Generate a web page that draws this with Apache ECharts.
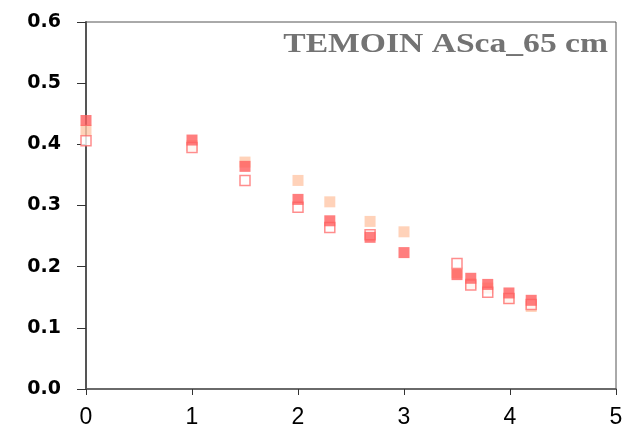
<!DOCTYPE html>
<html>
<head>
<meta charset="utf-8">
<script src="https://cdn.jsdelivr.net/npm/echarts@6/dist/echarts.min.js"></script>
<style>
  html, body { margin: 0; padding: 0; background: #fff; }
  #chart { width: 640px; height: 434px; }
</style>
</head>
<body>
<div id="chart"></div>
<script>
// values: [distance, value]
const redFilled = [
  [0, 0.439], [1, 0.407], [1.5, 0.364], [2, 0.310], [2.3, 0.275],
  [2.68, 0.248], [3, 0.223], [3.5, 0.187], [3.63, 0.181], [3.79, 0.171],
  [3.99, 0.157], [4.2, 0.145]
];
const peachFilled = [
  [0, 0.423], [1, 0.398], [1.5, 0.371], [2, 0.341], [2.3, 0.306],
  [2.68, 0.274], [3, 0.257], [3.5, 0.190], [3.63, 0.172], [3.79, 0.165],
  [3.99, 0.148], [4.2, 0.135]
];
const redHollow = [
  [0, 0.406], [1, 0.395], [1.5, 0.341], [2, 0.297], [2.3, 0.264],
  [2.68, 0.252], [3.5, 0.205], [3.63, 0.170], [3.79, 0.158],
  [3.99, 0.148], [4.2, 0.138]
];
const titleText = 'TEMOIN ASca_65 cm';

const chart = echarts.init(document.getElementById('chart'));

const option = {
  animation: false,
  backgroundColor: '#fff',
  // title drawn as graphic so it can be stretched a bit horizontally
  graphic: [{
    type: 'text',
    x: 608, y: 45,
    originX: 0, originY: 0,
    scaleX: 1.2,
    style: {
      text: titleText,
      font: 'bold 28px "Liberation Serif"',
      fill: '#737373',
      align: 'right',
      verticalAlign: 'middle'
    },
    z: 10
  }],
  grid: {
    left: 86, right: 24, top: 22, bottom: 45,
    show: true, borderColor: '#555', borderWidth: 1
  },
  xAxis: {
    type: 'value',
    min: 0, max: 5, interval: 1,
    axisLine: { lineStyle: { color: '#555', width: 1.5 } },
    axisTick: { show: true, length: 6, lineStyle: { color: '#333' } },
    splitLine: { show: false },
    axisLabel: {
      fontFamily: 'Liberation Sans', fontSize: 23, color: '#000', margin: 17
    }
  },
  yAxis: {
    type: 'value',
    min: 0, max: 0.6, interval: 0.1,
    axisLine: { show: true, lineStyle: { color: '#555', width: 2 } },
    axisTick: { show: true, length: 9, lineStyle: { color: '#333' } },
    splitLine: { show: false },
    axisLabel: {
      fontFamily: 'DejaVu Sans', fontWeight: 'bold', fontSize: 19,
      color: '#000', margin: 25,
      formatter: v => v.toFixed(1)
    }
  },
  series: [
    {
      type: 'scatter', data: peachFilled, symbol: 'rect', symbolSize: 11,
      itemStyle: { color: '#ffc7a8' }
    },
    {
      type: 'scatter', data: redHollow, symbol: 'rect', symbolSize: 10,
      itemStyle: { color: '#fff', borderColor: '#ff7070', borderWidth: 1.5 }
    },
    {
      type: 'scatter', data: redFilled, symbol: 'rect', symbolSize: 11,
      itemStyle: { color: '#ff5e5e' }
    }
  ]
};

chart.setOption(option);
</script>
</body>
</html>
